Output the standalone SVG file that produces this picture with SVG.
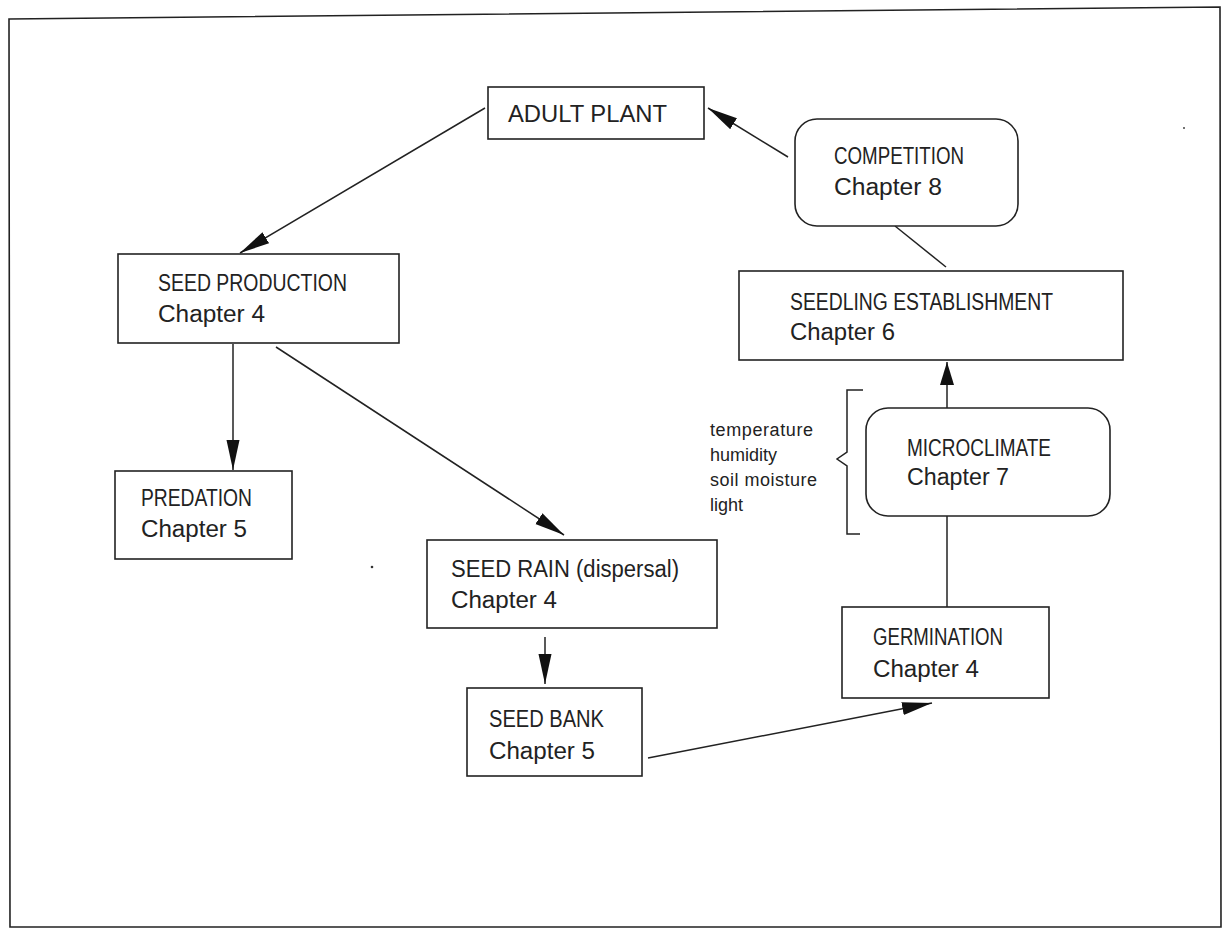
<svg xmlns="http://www.w3.org/2000/svg" width="1229" height="930" viewBox="0 0 1229 930">
<style>
.box{fill:#fff;stroke:#222;stroke-width:1.6}
.lbl{font-family:"Liberation Sans",Arial,sans-serif;font-size:23px;fill:#222}
.side{font-family:"Liberation Sans",Arial,sans-serif;font-size:18px;fill:#222}
.con{fill:none;stroke:#222;stroke-width:1.5}
</style>
<defs>
<marker id="ah" markerUnits="userSpaceOnUse" markerWidth="32" markerHeight="16" refX="30" refY="7" orient="auto">
<path d="M0,0.5 L30,7 L0,13.5 Z" fill="#111"/>
</marker>
<marker id="ahs" markerUnits="userSpaceOnUse" markerWidth="26" markerHeight="16" refX="23" refY="7" orient="auto">
<path d="M0,0 L23,7 L0,14 Z" fill="#111"/>
</marker>
</defs>
<rect width="1229" height="930" fill="#fff"/>
<polygon points="9,19 1220,7 1221,927 10,927" fill="none" stroke="#222" stroke-width="1.6"/>
<g id="connectors">
<line class="con" x1="485" y1="108" x2="240" y2="253" marker-end="url(#ah)"/>
<line class="con" x1="788" y1="157" x2="708" y2="108" marker-end="url(#ah)"/>
<line class="con" x1="895" y1="226" x2="946" y2="267"/>
<line class="con" x1="233" y1="344" x2="233" y2="470" marker-end="url(#ah)"/>
<line class="con" x1="276" y1="347" x2="564" y2="535" marker-end="url(#ah)"/>
<line class="con" x1="545" y1="637" x2="545" y2="684" marker-end="url(#ah)"/>
<line class="con" x1="648" y1="758" x2="932" y2="703" marker-end="url(#ah)"/>
<line class="con" x1="947" y1="516" x2="947" y2="607"/>
<line class="con" x1="947" y1="408" x2="947" y2="362" marker-end="url(#ahs)"/>
<path class="con" d="M863,390 L847,390 L847,452 L837,459 L847,466 L847,534 L860,534"/>
</g>
<g id="adult-plant">
<rect class="box" x="488" y="87" width="216" height="52"/>
<text class="lbl" x="508" y="122" textLength="159" lengthAdjust="spacingAndGlyphs">ADULT PLANT</text>
</g>
<g id="seed-production">
<rect class="box" x="118" y="254" width="281" height="89"/>
<text class="lbl" x="158" y="291" textLength="189" lengthAdjust="spacingAndGlyphs">SEED PRODUCTION</text>
<text class="lbl" x="158" y="322" textLength="107" lengthAdjust="spacingAndGlyphs">Chapter 4</text>
</g>
<g id="predation">
<rect class="box" x="115" y="471" width="177" height="88"/>
<text class="lbl" x="141" y="506" textLength="111" lengthAdjust="spacingAndGlyphs">PREDATION</text>
<text class="lbl" x="141" y="537" textLength="106" lengthAdjust="spacingAndGlyphs">Chapter 5</text>
</g>
<g id="seed-rain">
<rect class="box" x="427" y="540" width="290" height="88"/>
<text class="lbl" x="451" y="577" textLength="228" lengthAdjust="spacingAndGlyphs">SEED RAIN (dispersal)</text>
<text class="lbl" x="451" y="608" textLength="106" lengthAdjust="spacingAndGlyphs">Chapter 4</text>
</g>
<g id="seed-bank">
<rect class="box" x="467" y="688" width="175" height="88"/>
<text class="lbl" x="489" y="727" textLength="115" lengthAdjust="spacingAndGlyphs">SEED BANK</text>
<text class="lbl" x="489" y="759" textLength="106" lengthAdjust="spacingAndGlyphs">Chapter 5</text>
</g>
<g id="germination">
<rect class="box" x="842" y="607" width="207" height="91"/>
<text class="lbl" x="873" y="645" textLength="130" lengthAdjust="spacingAndGlyphs">GERMINATION</text>
<text class="lbl" x="873" y="677" textLength="106" lengthAdjust="spacingAndGlyphs">Chapter 4</text>
</g>
<g id="seedling-establishment">
<rect class="box" x="739" y="271" width="384" height="89"/>
<text class="lbl" x="790" y="310" textLength="263" lengthAdjust="spacingAndGlyphs">SEEDLING ESTABLISHMENT</text>
<text class="lbl" x="790" y="340" textLength="105" lengthAdjust="spacingAndGlyphs">Chapter 6</text>
</g>
<g id="competition">
<rect class="box" x="795" y="119" width="223" height="107" rx="22" ry="22"/>
<text class="lbl" x="834" y="164" textLength="130" lengthAdjust="spacingAndGlyphs">COMPETITION</text>
<text class="lbl" x="834" y="195" textLength="108" lengthAdjust="spacingAndGlyphs">Chapter 8</text>
</g>
<g id="microclimate">
<rect class="box" x="866" y="408" width="244" height="108" rx="22" ry="22"/>
<text class="lbl" x="907" y="456" textLength="144" lengthAdjust="spacingAndGlyphs">MICROCLIMATE</text>
<text class="lbl" x="907" y="485" textLength="102" lengthAdjust="spacingAndGlyphs">Chapter 7</text>
</g>
<g id="microclimate-factors">
<text class="side" x="710" y="436" textLength="103" lengthAdjust="spacing">temperature</text>
<text class="side" x="710" y="461">humidity</text>
<text class="side" x="710" y="486" textLength="107" lengthAdjust="spacing">soil moisture</text>
<text class="side" x="710" y="511">light</text>
</g>
<circle cx="1184" cy="128" r="1" fill="#444"/>
<circle cx="372" cy="567" r="1.3" fill="#333"/>
</svg>
